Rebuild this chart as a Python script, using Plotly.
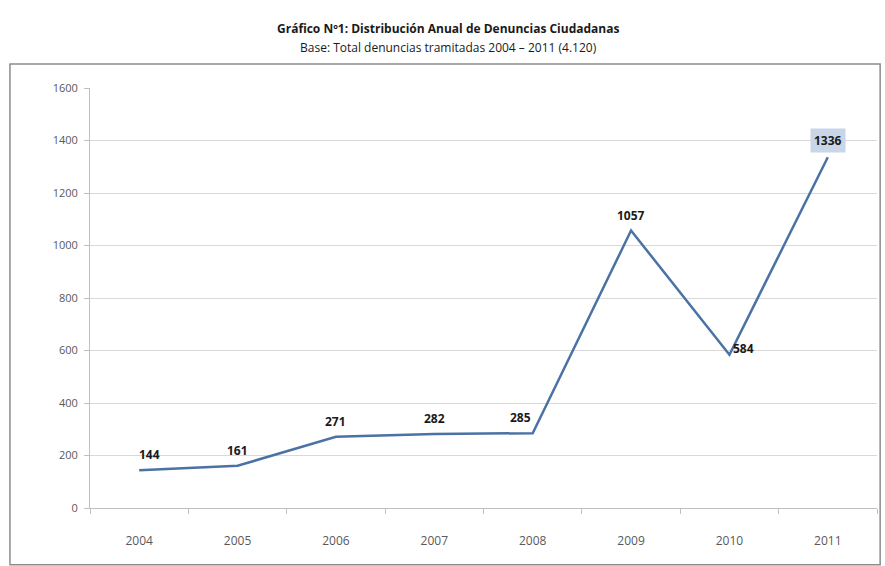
import plotly.graph_objects as go

years = ["2004", "2005", "2006", "2007", "2008", "2009", "2010", "2011"]
denuncias = [144, 161, 271, 282, 285, 1057, 584, 1336]
y_ticks = [0, 200, 400, 600, 800, 1000, 1200, 1400, 1600]

title1 = "Gráfico Nº1: Distribución Anual de Denuncias Ciudadanas"
title2 = "Base: Total denuncias tramitadas 2004 – 2011 (4.120)"

FONT = "Open Sans, DejaVu Sans, sans-serif"

fig = go.Figure()
fig.add_trace(go.Scatter(
    x=years, y=denuncias, mode="lines",
    line=dict(color="#4a72a4", width=2.5),
    hoverinfo="x+y", showlegend=False,
))

for i, (yr, v) in enumerate(zip(years, denuncias)):
    if yr == "2010":
        fig.add_annotation(x=i, y=v, text=f"<b>{v}</b>", showarrow=False,
                           xanchor="left", yanchor="middle", xshift=2, yshift=6,
                           font=dict(family=FONT, size=12, color="#1a1a1a"))
    elif yr == "2011":
        fig.add_annotation(x=i, y=v, text=f"<b>{v}</b>", showarrow=False,
                           xanchor="center", yanchor="bottom", yshift=4,
                           bgcolor="#c9d6e8", borderpad=3,
                           font=dict(family=FONT, size=12, color="#1a1a1a"))
    else:
        xs = -12 if yr == "2008" else (10 if yr == "2004" else 0)
        fig.add_annotation(x=i, y=v, text=f"<b>{v}</b>", showarrow=False,
                           xanchor="center", yanchor="bottom", yshift=5, xshift=xs,
                           font=dict(family=FONT, size=12, color="#1a1a1a"))

fig.add_annotation(xref="paper", yref="paper", x=0.455, y=1.142, text=f"<b>{title1}</b>",
                   showarrow=False, xanchor="center", yanchor="middle",
                   font=dict(family=FONT, size=12, color="#1a1a1a"))
fig.add_annotation(xref="paper", yref="paper", x=0.455, y=1.097, text=title2,
                   showarrow=False, xanchor="center", yanchor="middle",
                   font=dict(family=FONT, size=12, color="#1a1a1a"))

# outer chart border
fig.add_shape(type="rect", xref="paper", yref="paper",
              x0=-0.1017, x1=1.004, y0=-0.135, y1=1.057,
              line=dict(color="#8c8c8c", width=1.5), fillcolor="rgba(0,0,0,0)", layer="below")

fig.update_layout(
    width=885, height=566,
    margin=dict(l=90, r=8, t=88, b=58),
    paper_bgcolor="white", plot_bgcolor="white",
    font=dict(family=FONT, size=11, color="#595959"),
    xaxis=dict(type="category", showgrid=False, showline=True, linecolor="#bfbfbf",
               ticks="outside", ticklen=5, tickcolor="#bfbfbf", tickson="boundaries",
               ticklabelstandoff=22,
               tickfont=dict(size=12, color="#595959"), range=[-0.5, 7.5]),
    yaxis=dict(range=[0, 1600], tickvals=y_ticks, showgrid=True, gridcolor="#d9d9d9",
               gridwidth=1.2, showline=True, linecolor="#bfbfbf", ticks="outside",
               ticklen=5, tickcolor="#bfbfbf", zeroline=False, ticklabelstandoff=4,
               tickfont=dict(size=11, color="#595959")),
)

fig.write_html("out.html", config={"displayModeBar": False},
               post_script="document.body.style.margin='0';document.body.style.overflow='hidden';")
